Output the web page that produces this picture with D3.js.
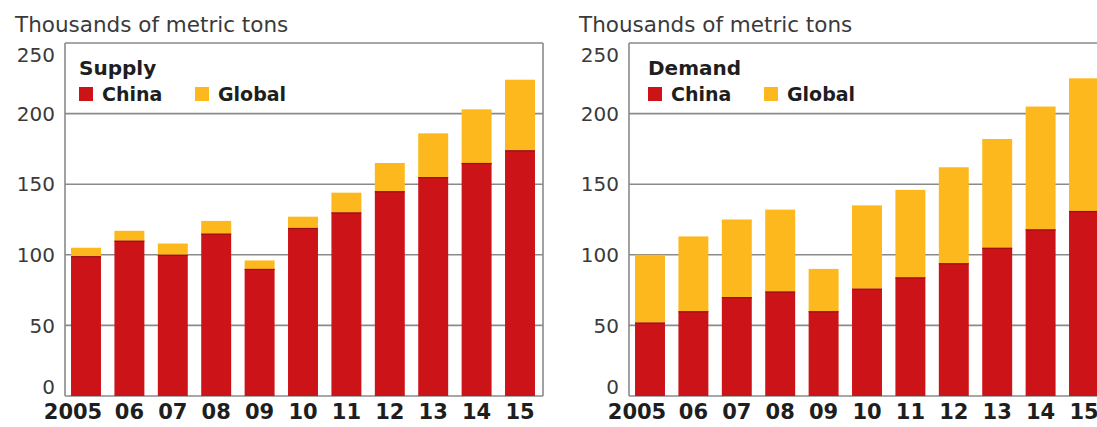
<!DOCTYPE html>
<html>
<head>
<meta charset="utf-8">
<script src="https://cdnjs.cloudflare.com/ajax/libs/d3/7.8.5/d3.min.js"></script>
<style>
  body { margin: 0; background: #fff; }
  svg { display: block; }
</style>
</head>
<body>
<div id="chart"></div>
<script>
var years = ["2005", "06", "07", "08", "09", "10", "11", "12", "13", "14", "15"];
var ticks = [0, 50, 100, 150, 200, 250];
var seriesNames = ["China", "Global"];

// thousands of metric tons
var supplyChina  = [99, 110, 100, 115, 90, 119, 130, 145, 155, 165, 174];
var supplyGlobal = [6, 7, 8, 9, 6, 8, 14, 20, 31, 38, 50];
var demandChina  = [52, 60, 70, 74, 60, 76, 84, 94, 105, 118, 131];
var demandGlobal = [48, 53, 55, 58, 30, 59, 62, 68, 77, 87, 94];

var width = 1097, height = 427;
var colors = {China: "#cc1318", Global: "#fcb81c"};

var panels = [
    {title: "Supply", left: 65, legendX: 14, china: supplyChina, global: supplyGlobal},
    {title: "Demand", left: 629, legendX: 19, china: demandChina, global: demandGlobal}
];

// note: "top" is a reserved window property, so use plotTop
var plotW = 478, plotTop = 43, plotBottom = 396;

var svg = d3.select("#chart").append("svg")
    .attr("width", width)
    .attr("height", height);

var y = d3.scaleLinear().domain([0, 250]).range([plotBottom, plotTop]);

panels.forEach(function(p) {
    var rows = years.map((yr, i) => ({year: yr, China: p.china[i], Global: p.global[i]}));
    var stacked = d3.stack().keys(seriesNames)(rows);

    var x = d3.scaleBand()
        .domain(years)
        .range([p.left - 0.7, p.left + plotW - 1.3])
        .paddingInner(0.31)
        .paddingOuter(0.155);

    var g = svg.append("g");

    // unit label
    g.append("text")
        .attr("x", p.left - 50)
        .attr("y", 32)
        .attr("font-family", "DejaVu Sans")
        .attr("font-size", 21.5)
        .attr("fill", "#3a3a3a")
        .text("Thousands of metric tons");

    // grid lines
    g.append("g")
        .selectAll("line")
        .data(ticks)
        .join("line")
            .attr("x1", p.left)
            .attr("x2", p.left + plotW)
            .attr("y1", d => y(d))
            .attr("y2", d => y(d))
            .attr("stroke", "#8a8a8a")
            .attr("stroke-width", 1.6);

    // frame sides
    g.append("line")
        .attr("x1", p.left).attr("x2", p.left)
        .attr("y1", plotTop).attr("y2", plotBottom)
        .attr("stroke", "#8a8a8a").attr("stroke-width", 1.6);
    g.append("line")
        .attr("x1", p.left + plotW).attr("x2", p.left + plotW)
        .attr("y1", plotTop).attr("y2", plotBottom)
        .attr("stroke", "#8a8a8a").attr("stroke-width", 1.6);

    // tick labels
    g.append("g")
        .selectAll("text")
        .data(ticks)
        .join("text")
            .attr("x", p.left - 10)
            .attr("y", d => y(d))
            .attr("dy", d => d == 250 ? "0.95em" : d == 0 ? "-0.08em" : "0.36em")
            .attr("text-anchor", "end")
            .attr("font-family", "DejaVu Sans")
            .attr("font-size", 20)
            .attr("fill", "#3a3a3a")
            .text(d => d);

    // bars
    g.append("g")
        .selectAll("g")
        .data(stacked)
        .join("g")
            .attr("fill", d => colors[d.key])
        .selectAll("rect")
        .data(d => d)
        .join("rect")
            .attr("x", d => x(d.data.year))
            .attr("y", d => y(d[1]))
            .attr("width", x.bandwidth())
            .attr("height", d => y(d[0]) - y(d[1]));

    // dark edge on top of the China segment
    g.append("g")
        .selectAll("line")
        .data(stacked[0])
        .join("line")
            .attr("x1", d => x(d.data.year))
            .attr("x2", d => x(d.data.year) + x.bandwidth())
            .attr("y1", d => y(d[1]) + 0.5)
            .attr("y2", d => y(d[1]) + 0.5)
            .attr("stroke", "#9a0d10")
            .attr("stroke-width", 1.2);

    // year labels
    g.append("g")
        .selectAll("text")
        .data(years)
        .join("text")
            .attr("x", d => x(d) + x.bandwidth() / 2)
            .attr("dx", (d, i) => i == 0 ? -13 : 0)
            .attr("y", 419)
            .attr("text-anchor", "middle")
            .attr("font-family", "DejaVu Sans")
            .attr("font-weight", "bold")
            .attr("font-size", 21)
            .attr("fill", "#1e1e1e")
            .text(d => d);

    // legend
    var lx = p.left + p.legendX;
    g.append("text")
        .attr("x", lx)
        .attr("y", 75)
        .attr("font-family", "DejaVu Sans")
        .attr("font-weight", "bold")
        .attr("font-size", 20)
        .attr("fill", "#1e1e1e")
        .text(p.title);

    var leg = g.append("g")
        .selectAll("g")
        .data(seriesNames)
        .join("g")
            .attr("transform", (d, i) => `translate(${lx + i * 116},0)`);
    leg.append("rect")
        .attr("x", 0)
        .attr("y", 87)
        .attr("width", 14)
        .attr("height", 14)
        .attr("fill", d => colors[d]);
    leg.append("text")
        .attr("x", 23)
        .attr("y", 101)
        .attr("font-family", "DejaVu Sans")
        .attr("font-weight", "bold")
        .attr("font-size", 19)
        .attr("fill", "#1e1e1e")
        .text(d => d);
});
</script>
</body>
</html>
